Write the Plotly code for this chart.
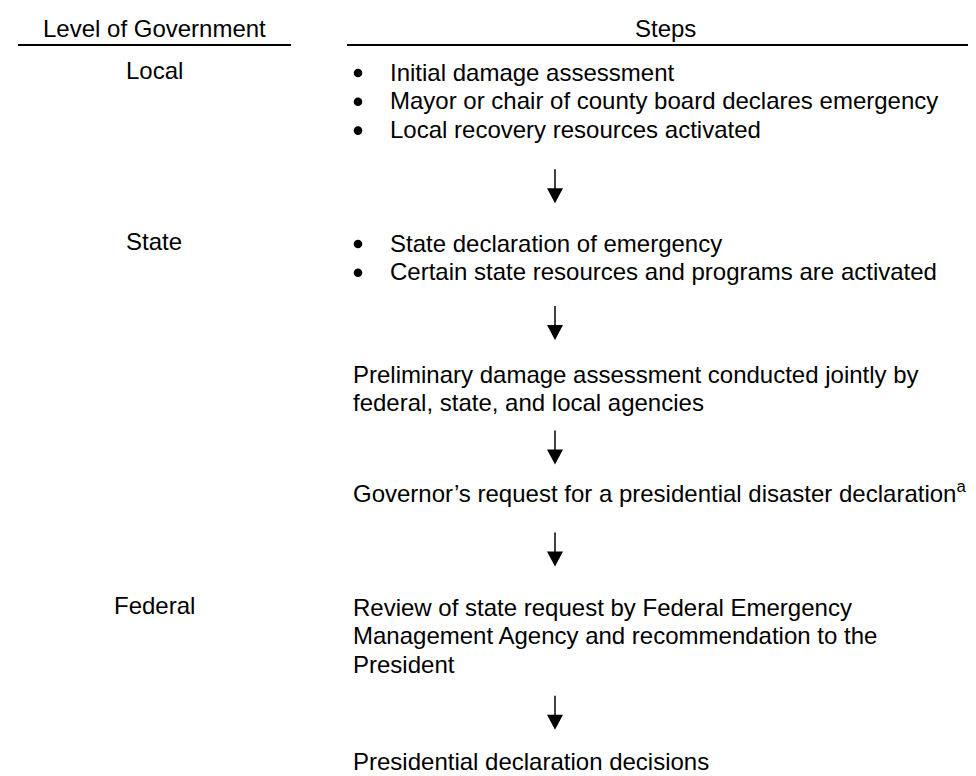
import plotly.graph_objects as go

# ---- content ----
header_labels = ["Level of Government", "Steps"]
levels = ["Local", "State", "Federal"]
level_block = [0, 1, 4]          # which step block each level label sits beside

step_blocks = [
    ["Initial damage assessment",
     "Mayor or chair of county board declares emergency",
     "Local recovery resources activated"],
    ["State declaration of emergency",
     "Certain state resources and programs are activated"],
    ["Preliminary damage assessment conducted jointly by",
     "federal, state, and local agencies"],
    ["Governor\u2019s request for a presidential disaster declaration<sup>a</sup>"],
    ["Review of state request by Federal Emergency",
     "Management Agency and recommendation to the",
     "President"],
    ["Presidential declaration decisions"],
]
block_bulleted = [True, True, False, False, False, False]

# ---- layout (pixels) ----
W, H = 976, 776
FONT = "Liberation Sans, Arial, sans-serif"
FS = 24
block_y = [64, 235, 366, 484, 599, 753]
line_gap = 28.8
label_x = 146
bullet_x = 350
bullet_text_x = 380
plain_text_x = 343
arrow_x = 547
arrow_len = 34
head_len = 15
head_w = 16

annotations = []
shapes = []

def txt(x, y, s, xanchor="left", size=FS):
    annotations.append(dict(x=x, y=y, xref="x", yref="y", text=s, showarrow=False,
                            xanchor=xanchor, yanchor="middle",
                            font=dict(family=FONT, size=size, color="black")))

# headers
txt(label_x, 20, header_labels[0], "center")
txt((339 + W) / 2, 20, header_labels[1], "center")
shapes.append(dict(type="line", xref="x", yref="y", x0=10, x1=283, y0=37, y1=37,
                   line=dict(color="black", width=2)))
shapes.append(dict(type="line", xref="x", yref="y", x0=339, x1=W, y0=37, y1=37,
                   line=dict(color="black", width=2)))

# step blocks
last_y = []
for bi, lines in enumerate(step_blocks):
    y0 = block_y[bi]
    for li, s in enumerate(lines):
        y = y0 + li * line_gap
        if block_bulleted[bi]:
            shapes.append(dict(type="circle", xref="x", yref="y",
                               x0=bullet_x - 4.3, x1=bullet_x + 4.3,
                               y0=y - 4.3 + 1, y1=y + 4.3 + 1,
                               fillcolor="black", line=dict(width=0)))
            txt(bullet_text_x, y, s)
        else:
            txt(plain_text_x, y, s)
    last_y.append(y0 + (len(lines) - 1) * line_gap)

# level labels
for name, bi in zip(levels, level_block):
    txt(label_x, block_y[bi] - 2, name, "center")

# arrows between blocks
for bi in range(len(step_blocks) - 1):
    mid = (last_y[bi] + block_y[bi + 1]) / 2
    top = mid - arrow_len / 2
    tip = mid + arrow_len / 2
    shapes.append(dict(type="line", xref="x", yref="y", x0=arrow_x, x1=arrow_x,
                       y0=top, y1=tip - head_len + 1, line=dict(color="black", width=1.5)))
    shapes.append(dict(type="path", xref="x", yref="y",
                       path=f"M {arrow_x - head_w/2} {tip - head_len} L {arrow_x + head_w/2} {tip - head_len} L {arrow_x} {tip} Z",
                       fillcolor="black", line=dict(width=0)))

fig = go.Figure()
fig.update_layout(
    width=W, height=H,
    margin=dict(l=0, r=0, t=0, b=0),
    paper_bgcolor="white", plot_bgcolor="white",
    xaxis=dict(range=[0, W], visible=False, fixedrange=True),
    yaxis=dict(range=[H, 0], visible=False, fixedrange=True),
    annotations=annotations, shapes=shapes, showlegend=False,
)
fig.write_html("out.html")
